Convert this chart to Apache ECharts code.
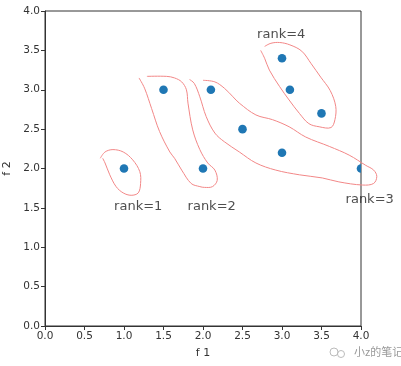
<!DOCTYPE html>
<html>
<head>
<meta charset="utf-8">
<script src="https://cdn.jsdelivr.net/npm/echarts@6/dist/echarts.min.js"></script>
<style>html,body{margin:0;padding:0;background:#fff;}#c{width:401px;height:366px;}</style>
</head>
<body>
<div id="c"></div>
<script>
// scatter points [f1, f2]
var points = [[1,2],[1.5,3],[2,2],[2.1,3],[2.5,2.5],[3,2.2],[4,2],[3,3.4],[3.1,3],[3.5,2.7]];
var tickValues = [0,0.5,1,1.5,2,2.5,3,3.5,4];
// hand-drawn loops in data units
var loop1 = [[0.70,2.13],[0.76,2.21],[0.86,2.24],[0.99,2.21],[1.11,2.11],[1.20,1.96],[1.21,1.81],[1.18,1.69],[1.09,1.66],[0.99,1.69],[0.90,1.77],[0.82,1.92],[0.76,2.07],[0.73,2.13]];
var loop2 = [[1.19,3.15],[1.26,3.02],[1.35,2.76],[1.45,2.47],[1.58,2.21],[1.64,2.13],[1.73,1.98],[1.85,1.81],[1.96,1.77],[2.02,1.76],[2.12,1.77],[2.18,1.85],[2.15,1.98],[2.06,2.07],[1.96,2.24],[1.87,2.49],[1.81,2.83],[1.79,3.00],[1.73,3.10],[1.64,3.15],[1.54,3.17],[1.29,3.17]];
var loop3 = [[1.83,3.13],[1.89,3.08],[1.96,2.91],[2.04,2.66],[2.15,2.45],[2.27,2.34],[2.46,2.21],[2.67,2.07],[2.92,1.98],[3.22,1.92],[3.51,1.88],[3.72,1.83],[4.02,1.79],[4.16,1.81],[4.20,1.90],[4.16,1.98],[4.06,2.04],[3.85,2.17],[3.60,2.28],[3.30,2.40],[3.09,2.53],[2.88,2.62],[2.67,2.68],[2.46,2.83],[2.38,2.91],[2.27,3.02],[2.15,3.10],[2.00,3.12]];
var loop4 = [[2.73,3.50],[2.78,3.40],[2.84,3.25],[2.97,3.04],[3.09,2.87],[3.22,2.70],[3.34,2.57],[3.47,2.53],[3.62,2.52],[3.67,2.62],[3.68,2.79],[3.61,2.99],[3.49,3.16],[3.37,3.33],[3.25,3.49],[3.10,3.57],[2.97,3.60],[2.86,3.59],[2.78,3.55]];
var loops = [loop1, loop2, loop3, loop4];
var rankNames = ['rank=1','rank=2','rank=3','rank=4'];
var rankPos = [[1.18,1.51],[2.11,1.51],[4.11,1.61],[2.99,3.70]];

var chart = echarts.init(document.getElementById('c'));
var tickFmt = function(v){ return v.toFixed(1); };
chart.setOption({
  animation:false,
  grid:{left:45, right:40, top:11, bottom:40, show:true, borderColor:'#333', borderWidth:1,
    containLabel:false, outerBoundsMode:'none'},
  xAxis:{type:'value', min:0, max:4, interval:0.5, name:'f 1', nameLocation:'middle', nameGap:22,
    nameTextStyle:{fontFamily:'DejaVu Sans', fontSize:11, color:'#333'},
    axisLine:{show:true, lineStyle:{color:'#333', width:1}},
    axisTick:{show:true, length:4, lineStyle:{color:'#333'}},
    axisLabel:{formatter:tickFmt, fontFamily:'DejaVu Sans', fontSize:10.5, color:'#333', margin:5},
    splitLine:{show:false}},
  yAxis:{type:'value', min:0, max:4, interval:0.5, name:'f 2', nameLocation:'middle', nameGap:30,
    nameTextStyle:{fontFamily:'DejaVu Sans', fontSize:11, color:'#333'},
    axisLine:{show:true, lineStyle:{color:'#333', width:1}},
    axisTick:{show:true, length:4, lineStyle:{color:'#333'}},
    axisLabel:{formatter:tickFmt, fontFamily:'DejaVu Sans', fontSize:10.5, color:'#333', margin:5},
    splitLine:{show:false}},
  series:[
    {type:'custom', clip:false, silent:true, z:1,
      data:loops.map(function(l,i){return [i];}),
      encode:{x:-1, y:-1},
      renderItem:function(params, api){
        var pts = loops[api.value(0)].map(function(p){ return api.coord(p); });
        return {type:'polyline', shape:{points:pts, smooth:0.35},
          style:{fill:null, stroke:'#f28787', lineWidth:1}};
      }},
    {type:'custom', clip:true, z:3, data:points, encode:{x:0, y:1},
      renderItem:function(params, api){
        var c = api.coord([api.value(0), api.value(1)]);
        return {type:'circle', shape:{cx:c[0], cy:c[1], r:4.3}, style:{fill:'#1f77b4'}};
      }},
    {type:'scatter', clip:false, silent:true, symbolSize:0,
      data:rankPos.map(function(p,i){return {value:p, name:rankNames[i]};}),
      label:{show:true, position:'inside', formatter:'{b}', fontFamily:'DejaVu Sans', fontSize:13, color:'#222'}, z:4}
  ],
  graphic:[
    {type:'circle', shape:{cx:334, cy:352, r:4}, style:{fill:'none', stroke:'#bbb', lineWidth:1}},
    {type:'circle', shape:{cx:341, cy:354, r:3.5}, style:{fill:'none', stroke:'#bbb', lineWidth:1}},
    {type:'text', left:354, top:346, style:{text:'小z的笔记', fill:'#999', fontSize:11, fontFamily:'Noto Sans CJK SC'}}
  ]
});
</script>
</body>
</html>
